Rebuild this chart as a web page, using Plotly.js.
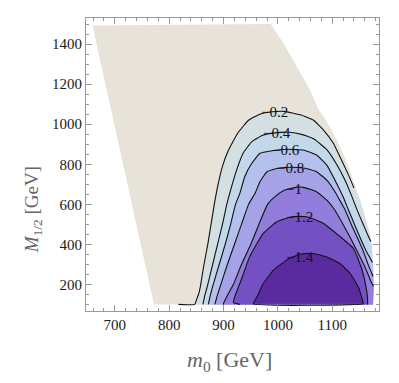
<!DOCTYPE html>
<html>
<head>
<meta charset="utf-8">
<script src="https://cdn.plot.ly/plotly-3.0.1.min.js"></script>
<style>
  html,body{margin:0;padding:0;background:#fff;}
  #chart{width:399px;height:383px;}
</style>
</head>
<body>
<div id="chart"></div>
<script>
// allowed region (m0, M1/2): top-left, right edge top->bottom, bottom-left
const domTopLeft = [659, 1492];
const edgeX = [987, 1010, 1035, 1059, 1075, 1084, 1102, 1117, 1130, 1142, 1151, 1158, 1164, 1170, 1173, 1175, 1176, 1175];
const edgeY = [1500, 1405, 1288, 1172, 1072, 1038, 955, 871, 788, 696, 621, 560, 500, 440, 380, 300, 200, 100];
const domBottomLeft = [772, 100];

// contour levels and their lines (left foot -> apex -> right end)
const levels = ['−0.2', '−0.4', '−0.6', '−0.8', '−1', '−1.2', '−1.4'];
const c02x = [817, 847, 851, 855, 858, 864, 871, 877, 883, 890, 898, 909, 926, 946, 967, 990, 1012, 1041, 1065, 1084, 1102, 1117, 1130, 1140];
const c02y = [101, 101, 130, 160, 200, 300, 400, 500, 600, 700, 790, 870, 955, 1020, 1050, 1062, 1064, 1047, 1021, 971, 905, 821, 746, 682];
const c04x = [862, 866, 871, 880, 889, 898, 906, 915, 924, 936, 952, 972, 995, 1020, 1045, 1067, 1090, 1108, 1124, 1136, 1146, 1157, 1165, 1171];
const c04y = [101, 150, 200, 300, 400, 500, 600, 690, 771, 855, 913, 945, 957, 960, 948, 925, 873, 800, 718, 640, 570, 500, 450, 415];
const c06x = [872, 876, 881, 892, 903, 913, 922, 930, 939, 952, 967, 990, 1015, 1047, 1071, 1090, 1105, 1120, 1130, 1141, 1152, 1162, 1170, 1174];
const c06y = [101, 150, 200, 300, 400, 500, 600, 655, 738, 805, 855, 868, 875, 871, 846, 796, 721, 638, 571, 500, 430, 370, 330, 310];
const c08x = [884, 889, 895, 907, 920, 933, 946, 958, 967, 980, 1000, 1025, 1050, 1071, 1090, 1105, 1117, 1124, 1135, 1147, 1158, 1166, 1172, 1175];
const c08y = [101, 150, 200, 300, 400, 500, 600, 655, 713, 763, 780, 785, 780, 763, 721, 663, 605, 571, 500, 430, 360, 300, 260, 240];
const c10x = [899, 908, 918, 933, 950, 965, 981, 995, 1012, 1035, 1047, 1071, 1090, 1105, 1120, 1134, 1147, 1158, 1166, 1172, 1176];
const c10y = [101, 150, 200, 300, 400, 500, 600, 640, 670, 686, 685, 663, 621, 571, 500, 430, 360, 300, 250, 210, 190];
const c12x = [930, 918, 922, 930, 948, 973, 998, 1022, 1038, 1053, 1084, 1114, 1139, 1154, 1162, 1165, 1165];
const c12y = [101, 110, 150, 205, 338, 455, 513, 536, 540, 538, 505, 440, 380, 280, 190, 130, 101];
const c14x = [955, 962, 973, 992, 1016, 1041, 1065, 1090, 1114, 1133, 1148, 1154, 1157, 1157, 955];
const c14y = [104, 140, 205, 272, 322, 352, 355, 338, 305, 255, 188, 138, 108, 104, 104];

// label spots on each line
const labX = [993, 998, 1015, 1023, 1030, 1039, 1041];
const labY = [1063, 955, 871, 780, 677, 538, 338];

const domColor = '#e7e3d9';
const bandColors = ['#d4dfe2', '#c3d8eb', '#b3c1ec', '#a5a2e8', '#927cdc', '#7451c3', '#5a2a9f'];

const lines = [[c02x,c02y],[c04x,c04y],[c06x,c06y],[c08x,c08y],[c10x,c10y],[c12x,c12y],[c14x,c14y]];

function bandPolygon(cx, cy){
  const xs = [...cx], ys = [...cy];
  const yEnd = cy[cy.length-1];
  edgeY.forEach((y,i)=>{ if(y < yEnd-5){ xs.push(edgeX[i]); ys.push(y); } });
  xs.push(cx[0]); ys.push(cy[0]);
  return [xs, ys];
}

const traces = [];
traces.push({
  type:'scatter', mode:'lines', fill:'toself', fillcolor:domColor,
  x:[domTopLeft[0], ...edgeX, domBottomLeft[0]],
  y:[domTopLeft[1], ...edgeY, domBottomLeft[1]],
  line:{width:0, color:domColor}, hoverinfo:'skip'
});
lines.forEach((l,i)=>{
  const [px,py] = bandPolygon(l[0], l[1]);
  traces.push({type:'scatter', mode:'lines', fill:'toself', fillcolor:bandColors[i],
    x:px, y:py, line:{width:0, color:bandColors[i]}, hoverinfo:'skip'});
});
lines.forEach(l=>{
  traces.push({type:'scatter', mode:'lines', x:l[0], y:l[1],
    line:{width:1.1, color:'#111', shape:'spline', smoothing:0.4}, hoverinfo:'skip'});
});

const SERIF = 'Liberation Serif';
const tickFont = {family:SERIF, size:15, color:'#1a1a1a'};
const frame = {showline:true, linecolor:'#999', linewidth:1, mirror:'ticks', ticks:'inside',
  ticklen:6, tickcolor:'#999', showgrid:false, zeroline:false, tickfont:tickFont};

const annotations = levels.map((t,i)=>({x:labX[i], y:labY[i], text:t, showarrow:false,
  font:{family:SERIF, size:15, color:'#111'}}));
annotations.push({xref:'paper', yref:'paper', x:0.49, y:-0.17, xanchor:'center', yanchor:'middle',
  text:'<i>m</i><sub>0</sub> [GeV]', showarrow:false, font:{family:SERIF, size:22, color:'#666'}});
// rotated title: the headless run anchors it at its start, so it is set from the bottom end
annotations.push({xref:'paper', yref:'paper', x:-0.18, y:0.345, xanchor:'center', yanchor:'middle',
  textangle:-90, text:'<i>M</i><sub>1/2</sub> [GeV]', showarrow:false, font:{family:SERIF, size:19, color:'#666'}});

Plotly.newPlot('chart', traces, {
  width:399, height:383,
  margin:{l:86, r:20, t:18, b:72},
  paper_bgcolor:'#fff', plot_bgcolor:'#fff',
  showlegend:false,
  font:{family:SERIF},
  xaxis:Object.assign({}, frame, {range:[647,1186], dtick:100, tick0:700,
    minor:{dtick:20, ticks:'inside', ticklen:3, tickcolor:'#999'}}),
  yaxis:Object.assign({}, frame, {range:[68,1530], dtick:200, tick0:200,
    minor:{dtick:50, ticks:'inside', ticklen:3, tickcolor:'#999'}}),
  annotations:annotations
}, {staticPlot:true, displayModeBar:false});
</script>
</body>
</html>
